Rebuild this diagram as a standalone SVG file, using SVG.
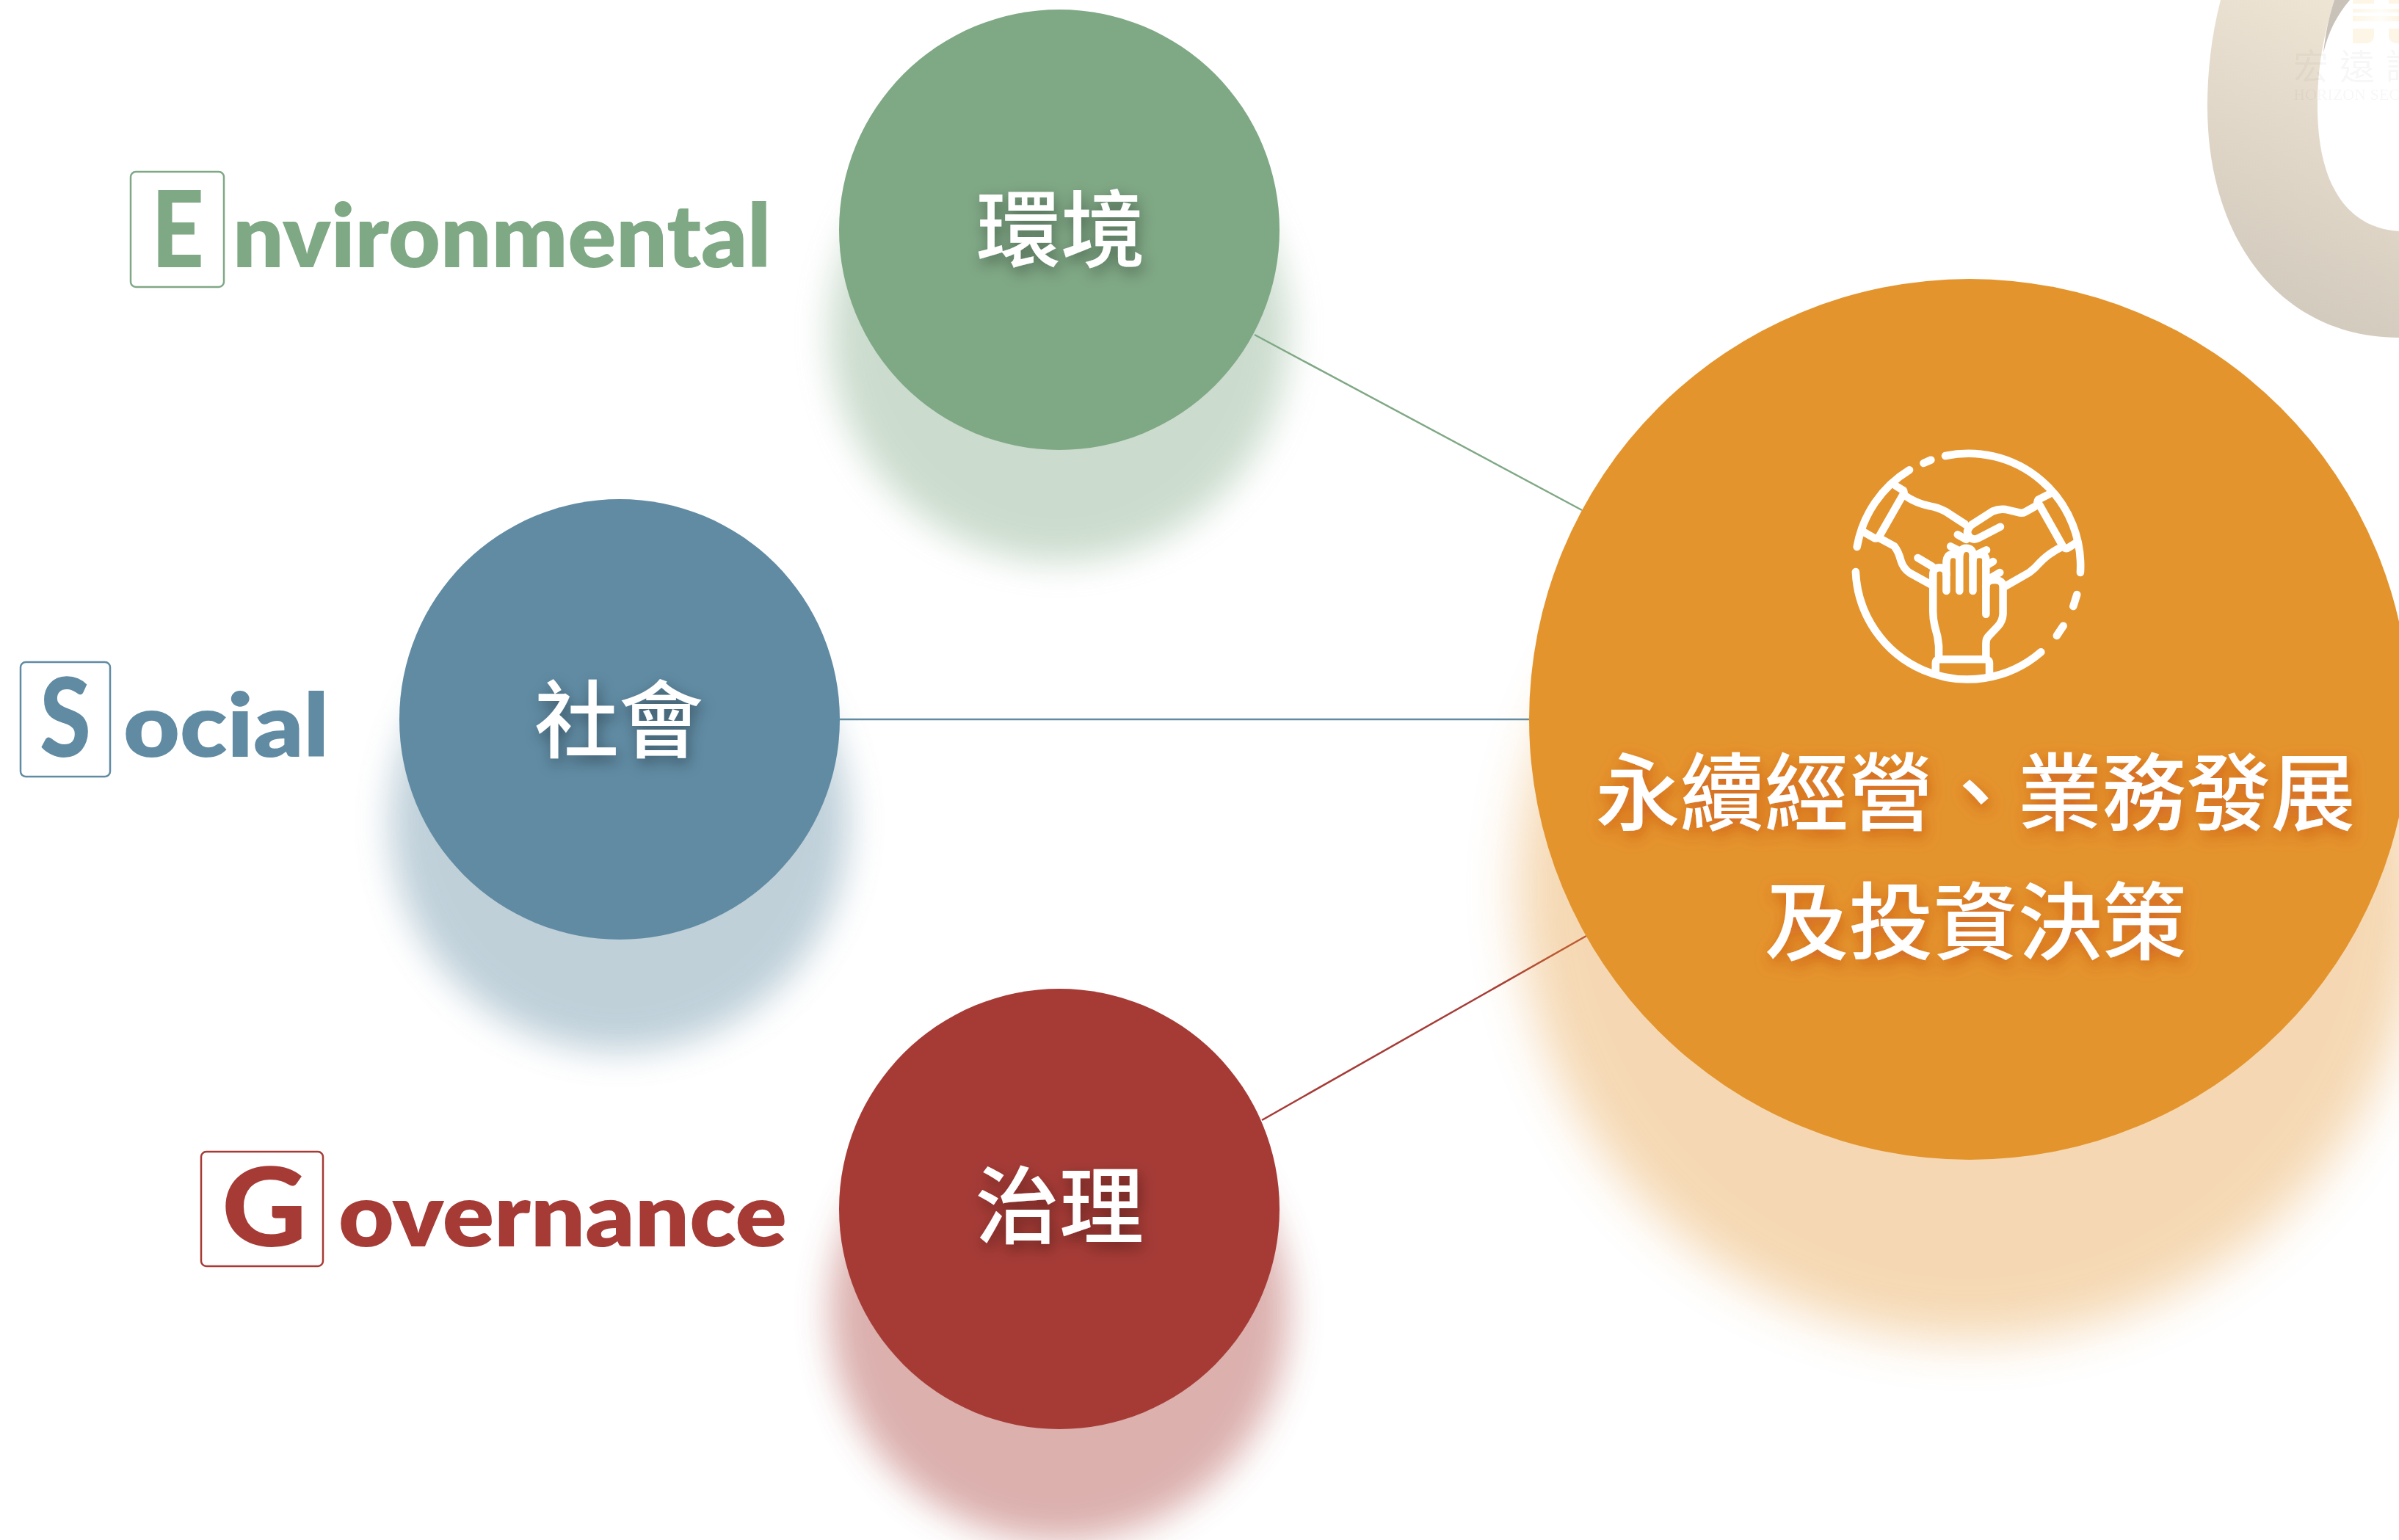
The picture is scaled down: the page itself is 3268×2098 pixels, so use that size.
<svg xmlns="http://www.w3.org/2000/svg" width="3268" height="2098" viewBox="0 0 3268 2098">
<style>
.cjk{font-family:"Noto Sans CJK TC","Noto Sans CJK SC",sans-serif;font-weight:500;fill:#fff;text-anchor:middle;font-size:115px}
.lat{font-family:"Lato","Open Sans",sans-serif;font-weight:800}
.ini{font-family:"Lato","Open Sans",sans-serif;font-weight:900}
.box{fill:none;stroke-width:2.5}
.conn{fill:none;stroke-width:2.5}
.ico{fill:none;stroke:#fff;stroke-linecap:round;stroke-linejoin:round;stroke-width:10.5}
.ico *{vector-effect:non-scaling-stroke}
.g{fill:#7fa885}.b{fill:#608ba3}.r{fill:#a63b36}.o{fill:#e4942d}
</style>
<defs>
<filter id="blurS" x="-30%" y="-30%" width="160%" height="160%"><feGaussianBlur stdDeviation="24"/></filter>
<filter id="blurL" x="-30%" y="-30%" width="160%" height="160%"><feGaussianBlur stdDeviation="34"/></filter>
<filter id="ts" x="-30%" y="-40%" width="160%" height="190%"><feDropShadow dx="3" dy="8" stdDeviation="10" flood-color="#000" flood-opacity=".38"/></filter>
<filter id="tsO" x="-10%" y="-40%" width="120%" height="190%"><feDropShadow dx="3" dy="8" stdDeviation="10" flood-color="#c23c10" flood-opacity=".6"/></filter>
<linearGradient id="ring" gradientUnits="userSpaceOnUse" x1="3220" y1="30" x2="3030" y2="420"><stop offset="0" stop-color="#eee4d4"/><stop offset="1" stop-color="#d0c8bb"/></linearGradient>
<linearGradient id="fade" x1="0" x2="1" y1="0" y2="0"><stop offset="0" stop-color="#fdf6e6"/><stop offset=".6" stop-color="#fffdf8"/><stop offset="1" stop-color="#fdf6e6"/></linearGradient>
</defs>
<g id="logo">
<path d="M3025,0C3012,50 3007,100 3007,145C3007,330 3110,460 3268,460L3268,315C3190,310 3157,240 3157,145C3157,90 3165,50 3180,0Z" fill="url(#ring)"/>
<path d="M3180,0L3201,0C3184,20 3172,42 3165,72C3168,45 3172,25 3180,0Z" fill="#c8c2b8"/>
<path d="M3205,0h29v5h-29zM3254,0h14v5h-14zM3205,39h29v8q0,12 -12,12h-17zM3254,39h14v20h-2q-12,0 -12,-12z" fill="#fdf6e6"/>
<rect x="3205" y="12" width="63" height="5" fill="url(#fade)"/>
<rect x="3205" y="22" width="63" height="7" fill="url(#fade)"/>
<text x="3124" y="108" font-family="'Noto Sans CJK TC',sans-serif" font-size="48" letter-spacing="15" fill="#000" fill-opacity=".05">宏遠證</text>
<text x="3124" y="136" font-family="'Liberation Serif',serif" font-size="22" fill="#000" fill-opacity=".05">HORIZON SEC</text>
</g>
<g id="connectors">
<line class="conn" x1="1709" y1="456" x2="2155" y2="695" stroke="#7fa885"/>
<line class="conn" x1="1144" y1="980" x2="2083" y2="980" stroke="#608ba3"/>
<line class="conn" x1="1719" y1="1526" x2="2161" y2="1275" stroke="#a63b36"/>
</g>
<g id="node-esg-main">
<circle class="o" cx="2683" cy="1210" r="615" opacity=".36" filter="url(#blurL)"/>
<circle class="o" cx="2683" cy="980" r="600"/>
<g class="ico" transform="translate(2400 560) scale(.35714 .33333)">
<path d="M700,183A428,460 0 0 1 1215,660"/>
<path d="M617,213L645,200"/>
<path d="M563,241A428,460 0 0 0 363,555"/>
<path d="M358,657A428,460 0 0 0 1065,985"/>
<path d="M1125,918L1150,878"/>
<path d="M1188,798L1202,750"/>
<path d="M510,305L540,325Q545,335 537,345L450,508Q445,522 430,520L390,495"/>
<path d="M545,345Q590,378 640,388Q670,393 700,410L775,462"/>
<path d="M450,520L505,552Q522,575 530,610Q540,645 565,662L650,712"/>
<path d="M1095,340L1055,362Q1045,375 1060,385L1147,550Q1157,568 1170,558L1200,538"/>
<path d="M1050,385L1005,412Q995,418 985,416L930,402Q905,398 880,410L800,465Q775,490 790,512Q805,530 825,520L910,473"/>
<path d="M1145,555Q1095,580 1060,620Q1040,645 1020,660L930,715"/>
<path d="M595,600L650,635"/><path d="M720,553L755,572"/><path d="M747,505L780,525"/>
<path d="M857,568L825,584"/><path d="M882,615L855,632"/><path d="M908,660L860,690"/>
<path d="M663,1065V1030Q663,1015 680,1015H852Q868,1015 868,1030V1078"/>
<path d="M675,1005V960Q672,920 660,880Q653,850 653,820V670Q653,640 678,640Q704,640 704,670V735"/>
<path d="M704,670V620Q704,585 729,585Q754,585 754,610V735"/>
<path d="M754,600Q754,560 779,560Q805,560 805,590V735"/>
<path d="M805,610Q805,585 830,585Q855,585 855,610V830"/>
<path d="M855,720Q855,690 888,690Q920,690 920,720V830Q918,860 900,880L865,920Q855,930 855,950V1005"/>
</g>
<text class="cjk" x="2691" y="1122" filter="url(#tsO)">永續經營、業務發展</text>
<text class="cjk" x="2691" y="1298" filter="url(#tsO)">及投資決策</text>
</g>
<g id="node-environmental">
<circle class="g" cx="1443" cy="453" r="312" opacity=".4" filter="url(#blurS)"/>
<circle class="g" cx="1443" cy="313" r="300"/>
<text class="cjk" x="1445" y="355" filter="url(#ts)">環境</text>
<rect class="box" x="178" y="234" width="127" height="157" rx="7" stroke="#7fa885"/>
<text class="ini g" x="206" y="364" font-size="145" textLength="72" lengthAdjust="spacingAndGlyphs">E</text>
<text class="lat g" x="317" y="364" font-size="120" textLength="733" lengthAdjust="spacingAndGlyphs">nvironmental</text>
</g>
<g id="node-social">
<circle class="b" cx="844" cy="1120" r="312" opacity=".4" filter="url(#blurS)"/>
<circle class="b" cx="844" cy="980" r="300"/>
<text class="cjk" x="843" y="1023" filter="url(#ts)">社會</text>
<rect class="box" x="28" y="902" width="122" height="156" rx="7" stroke="#608ba3"/>
<text class="ini b" x="54" y="1031" font-size="148" textLength="70" lengthAdjust="spacingAndGlyphs">S</text>
<text class="lat b" x="168" y="1031" font-size="120" textLength="280" lengthAdjust="spacingAndGlyphs">ocial</text>
</g>
<g id="node-governance">
<circle class="r" cx="1443" cy="1787" r="312" opacity=".4" filter="url(#blurS)"/>
<circle class="r" cx="1443" cy="1647" r="300"/>
<text class="cjk" x="1443" y="1685" filter="url(#ts)">治理</text>
<rect class="box" x="274" y="1569" width="166" height="156" rx="7" stroke="#a63b36"/>
<text class="ini r" x="302" y="1698" font-size="148" textLength="116" lengthAdjust="spacingAndGlyphs">G</text>
<text class="lat r" x="461" y="1698" font-size="120" textLength="611" lengthAdjust="spacingAndGlyphs">overnance</text>
</g>
</svg>
